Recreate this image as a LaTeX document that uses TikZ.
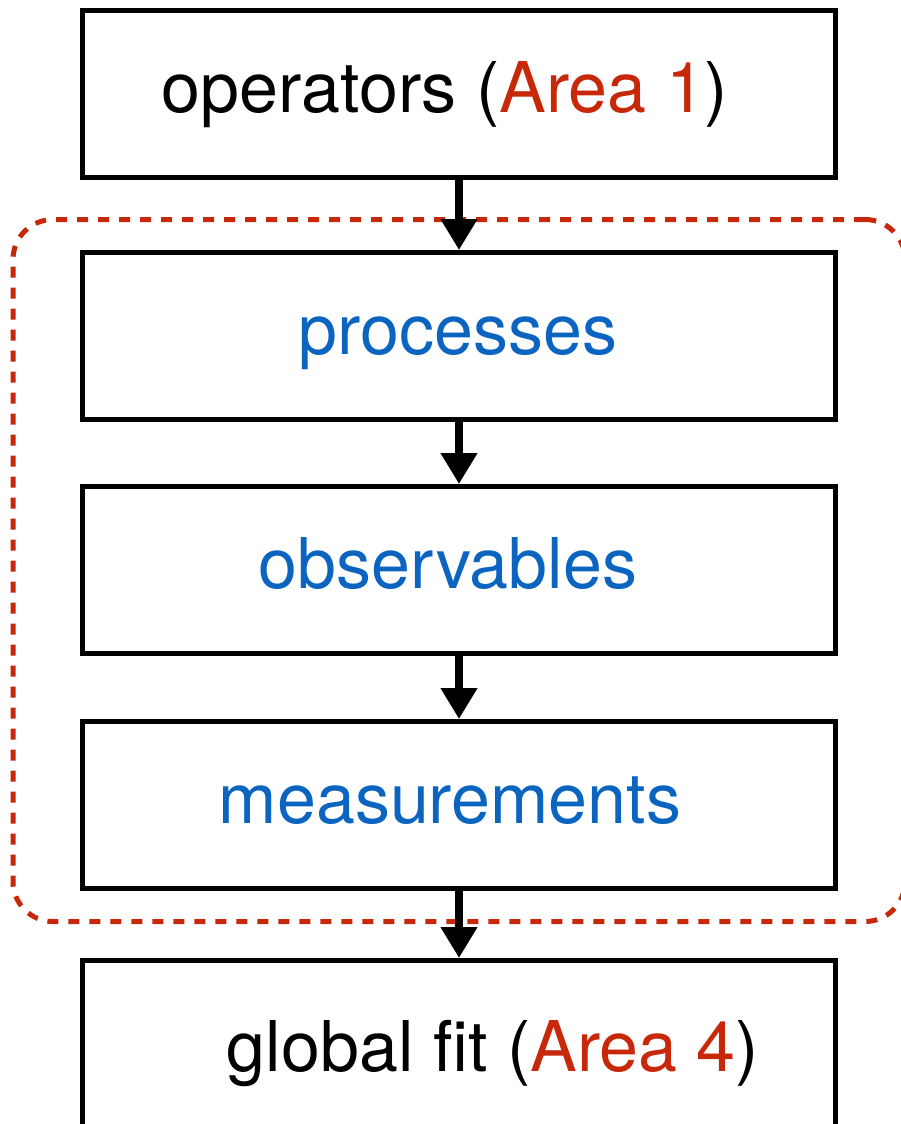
\documentclass[tikz,border=0pt]{standalone}
\usepackage{fontspec}
\setmainfont{TeX Gyre Heros}
\usepackage{xcolor}
\usetikzlibrary{arrows.meta,positioning,fit}
\definecolor{areared}{RGB}{200,40,10}
\definecolor{stepblue}{RGB}{10,100,192}

\begin{document}
\begin{tikzpicture}[
    x=1pt, y=-1pt,
    box/.style={
        draw,
        line width=5pt,
        minimum width=753pt,
        minimum height=167pt,
        inner sep=0pt
    },
    txt/.style={anchor=base, inner sep=0pt, font=\fontsize{70pt}{80pt}\selectfont},
    arrow/.style={-{Triangle[width=35pt,length=31pt]}, line width=7.5pt},
    region/.style={
        draw=areared,
        line width=5pt,
        dash pattern=on 11pt off 10pt,
        rounded corners=40pt,
        inner xsep=67pt,
        inner ysep=30.5pt
    }
]
\useasboundingbox (0,0) rectangle (901,1124);

\node[box] (ops) at (459,94) {};
\node[box, below=70pt of ops] (proc) {};
\node[box, below=62pt of proc] (obs) {};
\node[box, below=63pt of obs] (meas) {};
\node[box, below=67pt of meas] (glob) {};

\node[txt] (ops-t) at ([xshift=-14pt,yshift=-18pt]ops.center) {operators (\textcolor{areared}{Area 1})};
\node[txt, text=stepblue] (proc-t) at ([xshift=-1pt,yshift=-18.5pt]proc.center) {processes};
\node[txt, text=stepblue] (obs-t) at ([xshift=-11pt,yshift=-18.5pt]obs.center) {observables};
\node[txt, text=stepblue] (meas-t) at ([xshift=-9pt,yshift=-18.5pt]meas.center) {measurements};
\node[txt] (glob-t) at ([xshift=34pt,yshift=-27pt]glob.center) {global fit (\textcolor{areared}{Area 4})};

\node[region, fit=(proc)(obs)(meas)] (core) {};

\draw[arrow] (ops) -- (proc);
\draw[arrow] (proc) -- (obs);
\draw[arrow] (obs) -- (meas);
\draw[arrow] (meas) -- (glob);
\end{tikzpicture}
\end{document}
